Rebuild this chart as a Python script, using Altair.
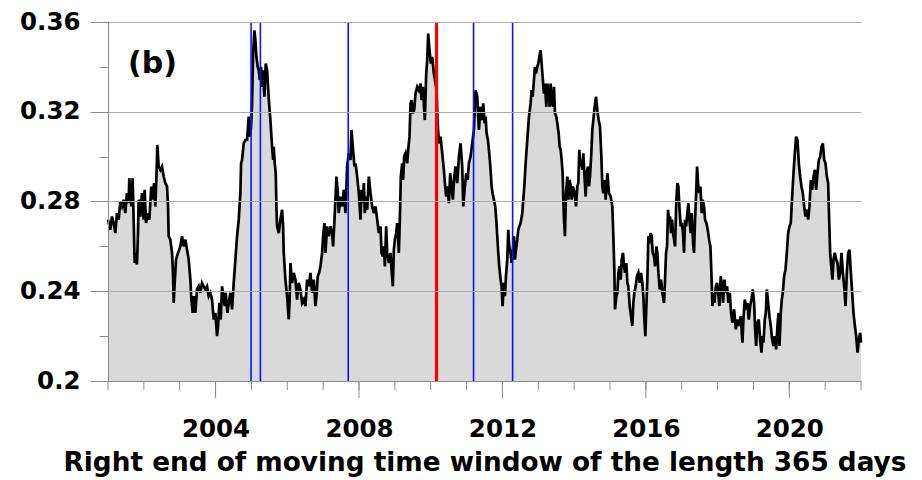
import altair as alt
import pandas as pd

# Moving-window statistic (right end of a 365-day window, decimal years)
years = [
    2001.000, 2001.064, 2001.111, 2001.157, 2001.204, 2001.250, 2001.297, 2001.343, 2001.390, 2001.436,
    2001.483, 2001.529, 2001.576, 2001.594, 2001.650, 2001.687, 2001.715, 2001.743, 2001.780, 2001.808,
    2001.836, 2001.855, 2001.901, 2001.948, 2001.994, 2002.022, 2002.060, 2002.115, 2002.153, 2002.208,
    2002.246, 2002.283, 2002.320, 2002.348, 2002.376, 2002.413, 2002.460, 2002.506, 2002.553, 2002.599,
    2002.646, 2002.674, 2002.692, 2002.739, 2002.785, 2002.813, 2002.832, 2002.860, 2002.897, 2002.953,
    2003.018, 2003.065, 2003.111, 2003.158, 2003.204, 2003.251, 2003.297, 2003.325, 2003.362, 2003.390,
    2003.437, 2003.483, 2003.530, 2003.576, 2003.622, 2003.669, 2003.716, 2003.762, 2003.809, 2003.855,
    2003.901, 2003.948, 2003.994, 2004.041, 2004.069, 2004.106, 2004.144, 2004.181, 2004.218, 2004.255,
    2004.283, 2004.330, 2004.367,
    2004.413, 2004.460, 2004.506, 2004.553, 2004.599, 2004.646, 2004.692, 2004.711, 2004.739, 2004.785,
    2004.832, 2004.878, 2004.925, 2004.953, 2004.990, 2005.018, 2005.046, 2005.083, 2005.111, 2005.139,
    2005.176, 2005.204, 2005.232, 2005.269, 2005.297, 2005.325, 2005.362, 2005.399, 2005.436, 2005.464,
    2005.492, 2005.529, 2005.576, 2005.604, 2005.622, 2005.650, 2005.678, 2005.697, 2005.715, 2005.762,
    2005.808, 2005.855, 2005.883, 2005.901, 2005.948, 2005.994, 2006.041, 2006.069, 2006.087, 2006.134,
    2006.180, 2006.227, 2006.273, 2006.320, 2006.366, 2006.413, 2006.460, 2006.506, 2006.553, 2006.599,
    2006.646, 2006.692, 2006.739, 2006.785, 2006.813, 2006.850, 2006.887, 2006.925, 2006.971, 2006.999,
    2007.036, 2007.064, 2007.111, 2007.157, 2007.204, 2007.250, 2007.278, 2007.316, 2007.343, 2007.371,
    2007.409, 2007.436, 2007.483, 2007.529, 2007.576, 2007.622, 2007.669, 2007.716, 2007.762, 2007.790,
    2007.827, 2007.873,
    2007.902, 2007.949, 2007.995, 2008.042, 2008.069, 2008.107, 2008.135, 2008.162, 2008.200, 2008.228,
    2008.274, 2008.321, 2008.367, 2008.414, 2008.460, 2008.507, 2008.553, 2008.600, 2008.628, 2008.665,
    2008.693, 2008.721, 2008.758, 2008.786, 2008.832, 2008.879, 2008.907, 2008.944, 2008.972, 2009.000,
    2009.037, 2009.065, 2009.093, 2009.111, 2009.139, 2009.167, 2009.204, 2009.232, 2009.260, 2009.297,
    2009.344, 2009.372, 2009.409, 2009.437, 2009.465, 2009.502, 2009.539, 2009.576, 2009.623, 2009.669,
    2009.716, 2009.744, 2009.781, 2009.818, 2009.837, 2009.874, 2009.902, 2009.930, 2009.967, 2010.004,
    2010.042, 2010.088, 2010.135, 2010.163, 2010.190, 2010.228, 2010.274, 2010.321, 2010.367, 2010.395,
    2010.432, 2010.469, 2010.507, 2010.544, 2010.581, 2010.618, 2010.656, 2010.693, 2010.739, 2010.786,
    2010.832, 2010.879, 2010.907, 2010.944, 2010.991, 2011.028, 2011.065, 2011.111, 2011.158, 2011.204,
    2011.251, 2011.298, 2011.344,
    2011.391, 2011.438, 2011.465, 2011.503, 2011.531, 2011.558, 2011.596, 2011.633, 2011.670, 2011.698,
    2011.726, 2011.763, 2011.800, 2011.828, 2011.856, 2011.884, 2011.912, 2011.949, 2011.977, 2012.005,
    2012.042, 2012.070, 2012.098, 2012.135, 2012.163, 2012.191, 2012.228, 2012.256, 2012.284, 2012.321,
    2012.349, 2012.377, 2012.414, 2012.442, 2012.470, 2012.507, 2012.554, 2012.582, 2012.610, 2012.647,
    2012.693, 2012.740, 2012.786, 2012.814, 2012.842, 2012.879, 2012.907, 2012.935, 2012.972, 2013.000,
    2013.028, 2013.065, 2013.093, 2013.121, 2013.158, 2013.186, 2013.223, 2013.251, 2013.279, 2013.317,
    2013.344, 2013.372, 2013.410, 2013.438, 2013.465, 2013.503, 2013.531, 2013.568, 2013.596, 2013.624,
    2013.651, 2013.679, 2013.698, 2013.717, 2013.744, 2013.772, 2013.810, 2013.838, 2013.875, 2013.903,
    2013.931, 2013.968, 2014.014, 2014.052, 2014.089, 2014.117, 2014.144, 2014.172, 2014.200, 2014.228,
    2014.256, 2014.284, 2014.321, 2014.349, 2014.386, 2014.414, 2014.442, 2014.479, 2014.507, 2014.535,
    2014.572, 2014.610, 2014.647, 2014.684, 2014.721, 2014.759, 2014.787, 2014.814, 2014.852, 2014.879,
    2014.926, 2014.972,
    2015.019, 2015.065, 2015.093, 2015.121, 2015.139, 2015.177, 2015.205, 2015.233, 2015.270, 2015.298,
    2015.326, 2015.363, 2015.391, 2015.419, 2015.456, 2015.484, 2015.512, 2015.549, 2015.586, 2015.623,
    2015.651, 2015.679, 2015.716, 2015.753, 2015.791, 2015.828, 2015.865, 2015.902, 2015.930, 2015.958,
    2015.986, 2016.014, 2016.042, 2016.070, 2016.107, 2016.135, 2016.163, 2016.191, 2016.228, 2016.256,
    2016.293, 2016.321, 2016.349, 2016.386, 2016.423, 2016.460, 2016.507, 2016.535, 2016.563, 2016.591,
    2016.619, 2016.646, 2016.674, 2016.702, 2016.730, 2016.758, 2016.786, 2016.814, 2016.851, 2016.879,
    2016.907, 2016.935, 2016.972, 2017.000, 2017.037, 2017.065, 2017.093, 2017.121, 2017.158, 2017.186,
    2017.214, 2017.251, 2017.279, 2017.316, 2017.344, 2017.372, 2017.400, 2017.428, 2017.456, 2017.484,
    2017.521, 2017.558, 2017.586, 2017.623, 2017.651, 2017.688, 2017.726, 2017.763, 2017.800, 2017.828,
    2017.856, 2017.884, 2017.912, 2017.949, 2017.986, 2018.023, 2018.051, 2018.088, 2018.126, 2018.153,
    2018.191, 2018.228, 2018.265, 2018.302, 2018.340, 2018.377,
    2018.415, 2018.461, 2018.508, 2018.554, 2018.601, 2018.647, 2018.694, 2018.721, 2018.759, 2018.796,
    2018.833, 2018.870, 2018.908, 2018.945, 2018.982, 2019.019, 2019.047, 2019.075, 2019.112, 2019.149,
    2019.187, 2019.224, 2019.252, 2019.280, 2019.317, 2019.345, 2019.373, 2019.410, 2019.447, 2019.484,
    2019.521, 2019.559, 2019.596, 2019.633, 2019.670, 2019.698, 2019.726, 2019.763, 2019.791, 2019.819,
    2019.856, 2019.894, 2019.931, 2019.968, 2020.005, 2020.042, 2020.080, 2020.117, 2020.154, 2020.191,
    2020.228, 2020.266, 2020.303, 2020.340, 2020.377, 2020.415, 2020.452, 2020.489, 2020.526, 2020.563,
    2020.601, 2020.638, 2020.675, 2020.712, 2020.749, 2020.787, 2020.824, 2020.861, 2020.898, 2020.936,
    2020.973, 2021.010, 2021.047, 2021.084, 2021.112, 2021.140, 2021.177, 2021.205, 2021.233, 2021.270,
    2021.308, 2021.345, 2021.382, 2021.419, 2021.456, 2021.494, 2021.531, 2021.568, 2021.605, 2021.643,
    2021.680, 2021.717, 2021.754, 2021.791, 2021.829, 2021.866, 2021.903, 2021.940, 2021.977, 2022.000,
]

values = [
    0.2719, 0.2674, 0.2733, 0.2704, 0.2659, 0.2748, 0.2719, 0.2800, 0.2778, 0.2808,
    0.2748, 0.2837, 0.2793, 0.2904, 0.2778, 0.2904, 0.2719, 0.2526, 0.2571, 0.2519,
    0.2659, 0.2808, 0.2733, 0.2837, 0.2719, 0.2852, 0.2704, 0.2748, 0.2719, 0.2867,
    0.2808, 0.2882, 0.2778, 0.2896, 0.3052, 0.2956, 0.2941, 0.2956, 0.2911, 0.2882,
    0.2867, 0.2778, 0.2645, 0.2630, 0.2571, 0.2482, 0.2348, 0.2437, 0.2541, 0.2571,
    0.2600, 0.2645, 0.2600, 0.2630, 0.2585, 0.2541, 0.2452, 0.2363, 0.2304, 0.2378,
    0.2304, 0.2408, 0.2422, 0.2393, 0.2437, 0.2422, 0.2408, 0.2422, 0.2378, 0.2393,
    0.2363, 0.2274, 0.2304, 0.2200, 0.2245, 0.2348, 0.2274, 0.2422, 0.2378, 0.2334,
    0.2393, 0.2304, 0.2348,
    0.2393, 0.2319, 0.2437, 0.2541, 0.2645, 0.2719, 0.2837, 0.2970, 0.2985, 0.3059,
    0.3074, 0.3074, 0.3178, 0.3089, 0.3133, 0.3237, 0.3459, 0.3563, 0.3518, 0.3444,
    0.3400, 0.3385, 0.3341, 0.3400, 0.3311, 0.3385, 0.3267, 0.3415, 0.3385, 0.3311,
    0.3237, 0.3163, 0.3044, 0.2985, 0.3044, 0.2970, 0.2926, 0.2778, 0.2689, 0.2659,
    0.2719, 0.2763, 0.2689, 0.2571, 0.2452, 0.2378, 0.2274, 0.2378, 0.2526, 0.2437,
    0.2482, 0.2452, 0.2363, 0.2437, 0.2408, 0.2348, 0.2363, 0.2334, 0.2452, 0.2422,
    0.2482, 0.2393, 0.2452, 0.2334, 0.2378, 0.2467, 0.2482, 0.2511, 0.2571, 0.2645,
    0.2704, 0.2571, 0.2689, 0.2645, 0.2689, 0.2659, 0.2600, 0.2719, 0.2808, 0.2911,
    0.2837, 0.2748, 0.2822, 0.2778, 0.2852, 0.2748, 0.2956, 0.3015, 0.2985, 0.3119,
    0.3044, 0.2956,
    0.2970, 0.2911, 0.2837, 0.2719, 0.2852, 0.2793, 0.2882, 0.2748, 0.2822, 0.2763,
    0.2911, 0.2837, 0.2778, 0.2748, 0.2778, 0.2719, 0.2659, 0.2689, 0.2571, 0.2556,
    0.2600, 0.2511, 0.2689, 0.2571, 0.2526, 0.2571, 0.2496, 0.2422, 0.2585, 0.2630,
    0.2659, 0.2704, 0.2630, 0.2571, 0.2719, 0.2911, 0.2970, 0.2896, 0.3000, 0.3015,
    0.2970, 0.3030, 0.3089, 0.3237, 0.3252, 0.3193, 0.3207, 0.3281, 0.3311, 0.3296,
    0.3326, 0.3252, 0.3311, 0.3207, 0.3163, 0.3370, 0.3430, 0.3548, 0.3474, 0.3415,
    0.3444, 0.3370, 0.3326, 0.3296, 0.3163, 0.3059, 0.3089, 0.3015, 0.2941, 0.2882,
    0.2822, 0.2867, 0.2793, 0.2926, 0.2867, 0.2808, 0.2911, 0.2956, 0.2882, 0.3000,
    0.3059, 0.2956, 0.2778, 0.2852, 0.2926, 0.2896, 0.2970, 0.3000, 0.3059, 0.3119,
    0.3296, 0.3267, 0.3119,
    0.3222, 0.3163, 0.3237, 0.3148, 0.3178, 0.3104, 0.3074, 0.3015, 0.2941, 0.2867,
    0.2837, 0.2808, 0.2778, 0.2719, 0.2645, 0.2571, 0.2511, 0.2452, 0.2422, 0.2334,
    0.2437, 0.2378, 0.2467, 0.2541, 0.2674, 0.2600, 0.2571, 0.2526, 0.2571, 0.2645,
    0.2541, 0.2585, 0.2630, 0.2674, 0.2689, 0.2704, 0.2748, 0.2808, 0.2867, 0.2970,
    0.3074, 0.3178, 0.3237, 0.3296, 0.3267, 0.3341, 0.3400, 0.3370, 0.3400, 0.3415,
    0.3444, 0.3474, 0.3415, 0.3356, 0.3281, 0.3326, 0.3222, 0.3326, 0.3296, 0.3222,
    0.3326, 0.3252, 0.3222, 0.3311, 0.3193, 0.3178, 0.3148, 0.3104, 0.3044, 0.3030,
    0.2985, 0.2926, 0.2808, 0.2719, 0.2645, 0.2837, 0.2911, 0.2808, 0.2896, 0.2867,
    0.2808, 0.2867, 0.2837, 0.2778, 0.2867, 0.2882, 0.3030, 0.2956, 0.2985, 0.2941,
    0.3015, 0.2926, 0.2822, 0.2926, 0.2956, 0.2867, 0.2911, 0.3015, 0.3119, 0.3163,
    0.3222, 0.3267, 0.3207, 0.3163, 0.3133, 0.3000, 0.2867, 0.2837, 0.2896, 0.2808,
    0.2926, 0.2837,
    0.2822, 0.2778, 0.2645, 0.2496, 0.2319, 0.2378, 0.2393, 0.2482, 0.2511, 0.2452,
    0.2541, 0.2571, 0.2511, 0.2482, 0.2526, 0.2437, 0.2422, 0.2334, 0.2289, 0.2245,
    0.2348, 0.2393, 0.2422, 0.2467, 0.2482, 0.2437, 0.2482, 0.2437, 0.2378, 0.2274,
    0.2200, 0.2334, 0.2452, 0.2645, 0.2630, 0.2659, 0.2645, 0.2571, 0.2556, 0.2511,
    0.2600, 0.2571, 0.2482, 0.2408, 0.2452, 0.2393, 0.2348, 0.2452, 0.2571, 0.2600,
    0.2763, 0.2719, 0.2733, 0.2659, 0.2719, 0.2659, 0.2630, 0.2600, 0.2808, 0.2882,
    0.2867, 0.2778, 0.2689, 0.2704, 0.2659, 0.2571, 0.2719, 0.2689, 0.2748, 0.2793,
    0.2719, 0.2659, 0.2748, 0.2615, 0.2571, 0.2719, 0.2822, 0.2956, 0.2882, 0.2837,
    0.2867, 0.2748, 0.2808, 0.2778, 0.2719, 0.2704, 0.2674, 0.2630, 0.2600, 0.2482,
    0.2334, 0.2393, 0.2348, 0.2422, 0.2437, 0.2378, 0.2334, 0.2467, 0.2422, 0.2348,
    0.2452, 0.2393, 0.2422, 0.2348, 0.2393, 0.2304,
    0.2260, 0.2319, 0.2230, 0.2274, 0.2245, 0.2289, 0.2171, 0.2274, 0.2363, 0.2319,
    0.2348, 0.2274, 0.2334, 0.2363, 0.2408, 0.2348, 0.2230, 0.2156, 0.2260, 0.2274,
    0.2186, 0.2126, 0.2200, 0.2171, 0.2274, 0.2304, 0.2408, 0.2348, 0.2289, 0.2245,
    0.2186, 0.2156, 0.2200, 0.2141, 0.2245, 0.2304, 0.2156, 0.2304, 0.2363, 0.2393,
    0.2467, 0.2496, 0.2571, 0.2659, 0.2689, 0.2704, 0.2822, 0.2926, 0.3015, 0.3089,
    0.3074, 0.2970, 0.2911, 0.2867, 0.2837, 0.2778, 0.2733, 0.2763, 0.2719, 0.2778,
    0.2896, 0.2852, 0.2911, 0.2941, 0.2852, 0.2926, 0.2985, 0.3000, 0.3044, 0.3059,
    0.2985, 0.2970, 0.2911, 0.2882, 0.2719, 0.2571, 0.2496, 0.2452, 0.2541, 0.2571,
    0.2541, 0.2526, 0.2452, 0.2482, 0.2571, 0.2482, 0.2422, 0.2334, 0.2482, 0.2571,
    0.2585, 0.2482, 0.2393, 0.2304, 0.2245, 0.2200, 0.2126, 0.2186, 0.2215, 0.2171,
]

# Marked dates (vertical lines)
blue_years = [2004.99, 2005.25, 2007.70, 2011.195, 2012.284]
red_years = [2010.162]

# Axis ticks: every year / every 0.02, labels on the major ones
x_ticks = list(range(2001, 2023))
x_major_ticks = [2004, 2008, 2012, 2016, 2020]
y_ticks = [0.20, 0.22, 0.24, 0.26, 0.28, 0.30, 0.32, 0.34, 0.36]

panel_label = "(b)"
x_title = "Right end of moving time window of the length 365 days"

FONT = "DejaVu Sans"
TICK_GRAY = "#8c8c8c"
PLOT_W, PLOT_H = 753, 359

series = pd.DataFrame({"year": years, "value": values})
blue_df = pd.DataFrame({"year": blue_years})
red_df = pd.DataFrame({"year": red_years})
label_df = pd.DataFrame({"label": [panel_label]})
minor_df = pd.DataFrame({"year": x_ticks})
major_df = pd.DataFrame({"year": x_major_ticks})

x_scale = alt.Scale(domain=[2001, 2022], nice=False, zero=False)
y_scale = alt.Scale(domain=[0.2, 0.36], nice=False, zero=False)

x_major = "datum.value % 4 == 0"
y_major = "round(datum.value * 100) % 4 == 0"

x_axis = alt.Axis(
    values=x_ticks,
    tickCount=40,
    labelExpr=f"{x_major} ? format(datum.value, 'd') : ''",
    labelOverlap=False,
    labelFlush=False,
    labelFont=FONT,
    labelFontSize=24.5,
    labelFontWeight="bold",
    labelColor="black",
    labelPadding=19,
    tickSize={"condition": {"test": x_major, "value": 17}, "value": 9},
    tickColor=TICK_GRAY,
    tickOpacity=0,
    domainColor=TICK_GRAY,
    domainWidth=1,
    grid=False,
    title=x_title,
    titleFont=FONT,
    titleFontSize=26.3,
    titleFontWeight="bold",
    titleColor="black",
    titlePadding=9,
    zindex=1,
)

y_axis = alt.Axis(
    values=y_ticks,
    tickCount=20,
    labelExpr=f"{y_major} ? format(datum.value, '.2~f') : ''",
    labelOverlap=False,
    labelFlush=False,
    labelFont=FONT,
    labelFontSize=24.5,
    labelFontWeight="bold",
    labelColor="black",
    labelPadding=10,
    tickSize={"condition": {"test": y_major, "value": 18}, "value": 9},
    tickColor=TICK_GRAY,
    tickWidth=1,
    domainColor=TICK_GRAY,
    domainWidth=1,
    grid=True,
    gridColor="#ababab",
    gridWidth=1,
    gridOpacity={"condition": {"test": y_major, "value": 1}, "value": 0},
    title=None,
    zindex=1,
)

area = alt.Chart(series).mark_area(color="#d9d9d9").encode(
    x=alt.X("year:Q", scale=x_scale, axis=x_axis),
    y=alt.Y("value:Q", scale=y_scale, axis=y_axis),
    y2=alt.datum(0.2),
)

line = alt.Chart(series).mark_line(color="black", strokeWidth=2.7).encode(
    x="year:Q",
    y="value:Q",
)

blue_rules = alt.Chart(blue_df).mark_rule(color="#1010ff", strokeWidth=1.6).encode(
    x="year:Q",
)

red_rules = alt.Chart(red_df).mark_rule(color="#ff0000", strokeWidth=3.2).encode(
    x="year:Q",
)

# Year tick marks below the x axis: short every year, long every fourth year
minor_x_ticks = alt.Chart(minor_df).mark_rule(color=TICK_GRAY, strokeWidth=1).encode(
    x="year:Q",
    y=alt.value(PLOT_H),
    y2=alt.value(PLOT_H + 9),
)

major_x_ticks = alt.Chart(major_df).mark_rule(color=TICK_GRAY, strokeWidth=1).encode(
    x="year:Q",
    y=alt.value(PLOT_H),
    y2=alt.value(PLOT_H + 17),
)

panel = alt.Chart(label_df).mark_text(
    align="left",
    baseline="alphabetic",
    font=FONT,
    fontSize=30,
    fontWeight="bold",
    color="black",
).encode(
    text="label:N",
    x=alt.value(20),
    y=alt.value(51),
)

chart = (
    alt.layer(area, line, blue_rules, red_rules, minor_x_ticks, major_x_ticks, panel)
    .properties(
        width=PLOT_W,
        height=PLOT_H,
        autosize="none",
        padding={"left": 108, "top": 22, "right": 61, "bottom": 99},
        background="white",
    )
    .configure_view(strokeWidth=0)
)

chart.save("out.html", embed_options={"renderer": "svg", "actions": False})
